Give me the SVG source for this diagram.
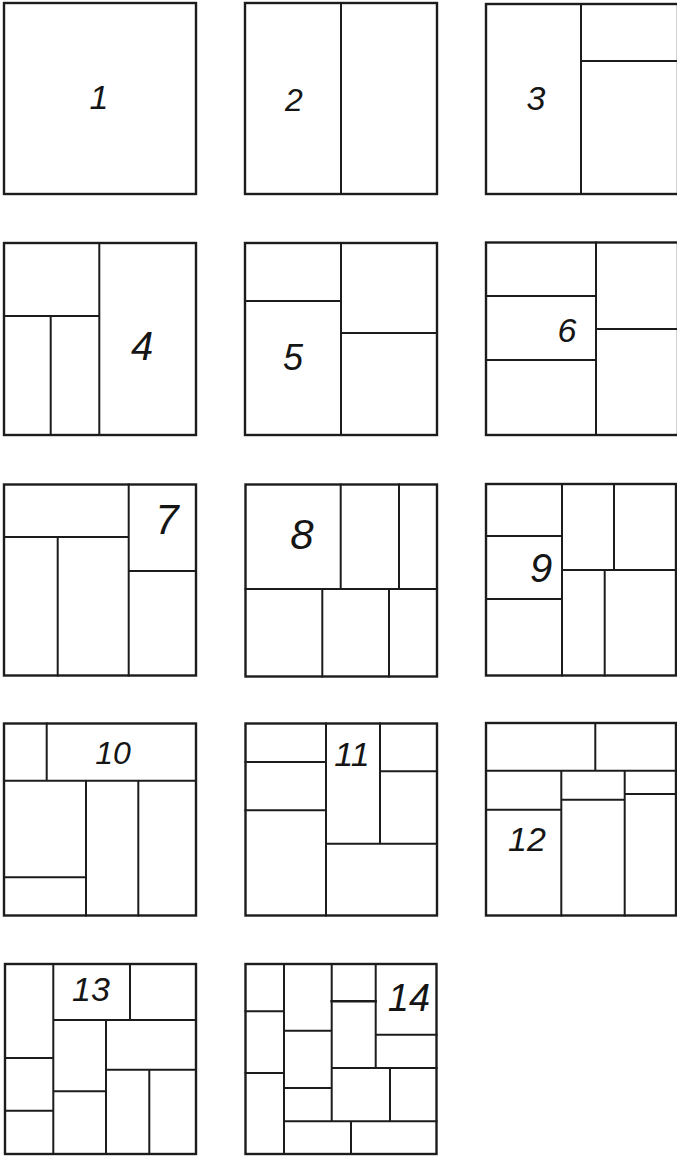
<svg xmlns="http://www.w3.org/2000/svg" width="677" height="1156" viewBox="0 0 677 1156">
<style>
.frame{fill:none;stroke:#1c1c1c;stroke-width:2.4}
.ln{stroke:#1c1c1c;stroke-width:2;fill:none;stroke-linecap:square}
.num{font-family:"Liberation Sans","DejaVu Sans",sans-serif;font-style:italic;fill:#151515;text-anchor:middle}
</style>
<rect x="0" y="0" width="677" height="1156" fill="#ffffff"/>

<g id="fig1">
<rect class="frame" x="4" y="3" width="192" height="191"/>
<text class="num" x="99" y="109" font-size="34">1</text>
</g>

<g id="fig2">
<rect class="frame" x="245" y="3" width="192" height="191"/>
<path class="ln" d="M341 3V194"/>
<text class="num" x="294" y="111" font-size="32">2</text>
</g>

<g id="fig3">
<rect class="frame" x="486" y="4" width="192" height="190"/>
<path class="ln" d="M581 4V194M581 61H678"/>
<text class="num" x="536" y="110" font-size="34">3</text>
</g>

<g id="fig4">
<rect class="frame" x="4" y="243" width="192" height="192"/>
<path class="ln" d="M99.3 243V435M4 316H99.3M50.7 316V435"/>
<text class="num" x="142" y="360" font-size="40">4</text>
</g>

<g id="fig5">
<rect class="frame" x="245" y="243" width="192" height="192"/>
<path class="ln" d="M341 243V435M245 301H341M341 333H437"/>
<text class="num" x="293" y="370" font-size="36">5</text>
</g>

<g id="fig6">
<rect class="frame" x="486" y="242.5" width="192" height="192.5"/>
<path class="ln" d="M596 242.5V435M486 296H596M486 360H596M596 329H678"/>
<text class="num" x="567" y="342" font-size="34">6</text>
</g>

<g id="fig7">
<rect class="frame" x="4" y="484.5" width="192" height="191"/>
<path class="ln" d="M128.7 484.5V675.5M4 537H128.7M57.7 537V675.5M128.7 571H196"/>
<text class="num" x="167" y="534" font-size="42">7</text>
</g>

<g id="fig8">
<rect class="frame" x="245.5" y="484.5" width="191.5" height="192"/>
<path class="ln" d="M245.5 589H437M340.7 484.5V589M399 484.5V589M322.3 589V676.5M389 589V676.5"/>
<text class="num" x="302" y="549" font-size="42">8</text>
</g>

<g id="fig9">
<rect class="frame" x="486" y="484" width="190" height="191.5"/>
<path class="ln" d="M562 484V675.5M486 536H562M486 599H562M614 484V570M562 570H676M604.7 570V675.5"/>
<text class="num" x="541" y="582" font-size="40">9</text>
</g>

<g id="fig10">
<rect class="frame" x="4" y="723.5" width="192" height="192"/>
<path class="ln" d="M4 780.7H196M46.7 723.5V780.7M86 780.7V915.5M138.3 780.7V915.5M4 877.3H86"/>
<text class="num" x="113" y="764" font-size="32">10</text>
</g>

<g id="fig11">
<rect class="frame" x="245.5" y="723.5" width="191.5" height="192"/>
<path class="ln" d="M326 723.5V915.5M245.5 762H326M245.5 810.3H326M380 723.5V843.7M326 843.7H437M380 771.3H437"/>
<text class="num" x="352" y="766" font-size="34">11</text>
</g>

<g id="fig12">
<rect class="frame" x="486" y="723" width="190" height="192.5"/>
<path class="ln" d="M486 770.7H676M595.3 723V770.7M561.3 770.7V915.5M624.7 770.7V915.5M486 809.7H561.3M561.3 799.7H624.7M624.7 794H676"/>
<text class="num" x="527" y="851" font-size="34">12</text>
</g>

<g id="fig13">
<rect class="frame" x="5" y="964" width="191" height="190"/>
<path class="ln" d="M53.3 964V1154M5 1058H53.3M5 1110.7H53.3M53.3 1020H196M130 964V1020M106 1020V1154M53.3 1091.3H106M106 1069.7H196M149.3 1069.7V1154"/>
<text class="num" x="91" y="1001" font-size="34">13</text>
</g>

<g id="fig14">
<rect class="frame" x="245.5" y="964" width="191" height="190"/>
<path class="ln" d="M284 964V1154M245.5 1011.3H284M245.5 1073H284M331.7 964V1121.3M284 1121.3H436.5M351 1121.3V1154M284 1030.7H331.7M284 1088H331.7M375.7 964V1068M331.7 1068H436.5M375.7 1034.7H436.5M390 1068V1121.3"/>
<path class="ln" style="stroke-width:2.6" d="M331.7 1001.3H375.7"/>
<text class="num" x="409" y="1011" font-size="38">14</text>
</g>
</svg>
